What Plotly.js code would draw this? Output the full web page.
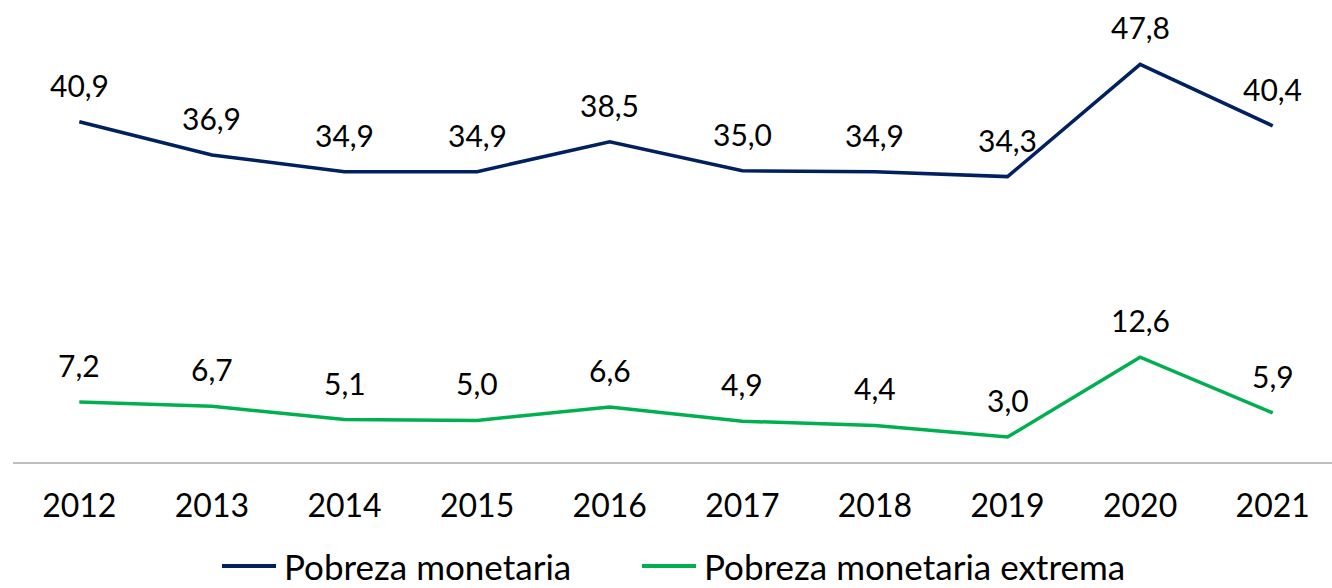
<!DOCTYPE html>
<html>
<head>
<meta charset="utf-8">
<script src="https://cdn.plot.ly/plotly-3.0.1.min.js"></script>
<style>html,body{margin:0;padding:0;background:#fff;}#chart{width:1332px;height:588px;}</style>
</head>
<body>
<div id="chart"></div>
<script>
const years = [2012, 2013, 2014, 2015, 2016, 2017, 2018, 2019, 2020, 2021];
const pobreza = [40.9, 36.9, 34.9, 34.9, 38.5, 35.0, 34.9, 34.3, 47.8, 40.4];
const pobrezaExtrema = [7.2, 6.7, 5.1, 5.0, 6.6, 4.9, 4.4, 3.0, 12.6, 5.9];
const seriesNames = ["Pobreza monetaria", "Pobreza monetaria extrema"];
const seriesColors = ["#002060", "#00B050"];

const FONT = "Lato, 'Open Sans', sans-serif";
const fmt = v => v.toFixed(1).replace('.', ',');

const W = 1332, H = 588;
const M = {l: 13, r: 0, t: 46, b: 126};
const plotW = W - M.l - M.r, plotH = H - M.t - M.b;
const px2x = p => (p - M.l) / plotW;
const py2y = p => (H - M.b - p) / plotH;

const allSeries = [pobreza, pobrezaExtrema];
const traces = allSeries.map((vals, i) => ({
  x: years, y: vals, type: 'scatter', mode: 'lines',
  name: seriesNames[i],
  line: {color: seriesColors[i], width: 3.5},
  hoverinfo: 'skip', showlegend: false
}));

const annotations = [];
allSeries.forEach(vals => {
  vals.forEach((v, j) => {
    annotations.push({
      x: years[j], y: v, xref: 'x', yref: 'y', text: fmt(v),
      showarrow: false, yanchor: 'middle', xanchor: 'center', yshift: 37,
      font: {family: FONT, size: 30, color: '#000'}
    });
  });
});

// Legend drawn by hand, placed low like the reference but kept inside the canvas
const legendLineStarts = [222, 642];
const legendLineLen = 54;
const legendY = 566;
const shapes = [];
seriesNames.forEach((name, i) => {
  shapes.push({
    type: 'line', xref: 'paper', yref: 'paper',
    x0: px2x(legendLineStarts[i]), x1: px2x(legendLineStarts[i] + legendLineLen),
    y0: py2y(legendY), y1: py2y(legendY),
    line: {color: seriesColors[i], width: 4}
  });
  annotations.push({
    xref: 'paper', yref: 'paper',
    x: px2x(legendLineStarts[i] + legendLineLen + 6), y: py2y(566),
    xanchor: 'left', yanchor: 'middle', showarrow: false, text: name,
    font: {family: FONT, size: 35, color: '#000'}
  });
});

const layout = {
  width: W, height: H,
  margin: M,
  paper_bgcolor: '#fff', plot_bgcolor: '#fff',
  showlegend: false,
  xaxis: {
    type: 'linear', range: [2011.5, 2021.447], tickmode: 'array', tickvals: years,
    ticktext: years.map(String), ticks: '', showgrid: false, zeroline: false,
    showline: true, linecolor: '#BFBFBF', linewidth: 2,
    ticklabelstandoff: 15,
    tickfont: {family: FONT, size: 32, color: '#000'}, fixedrange: true
  },
  yaxis: {
    range: [0, 50], visible: false, showgrid: false, zeroline: false, fixedrange: true
  },
  annotations: annotations,
  shapes: shapes
};

Plotly.newPlot('chart', traces, layout, {displayModeBar: false, staticPlot: true});
</script>
</body>
</html>
